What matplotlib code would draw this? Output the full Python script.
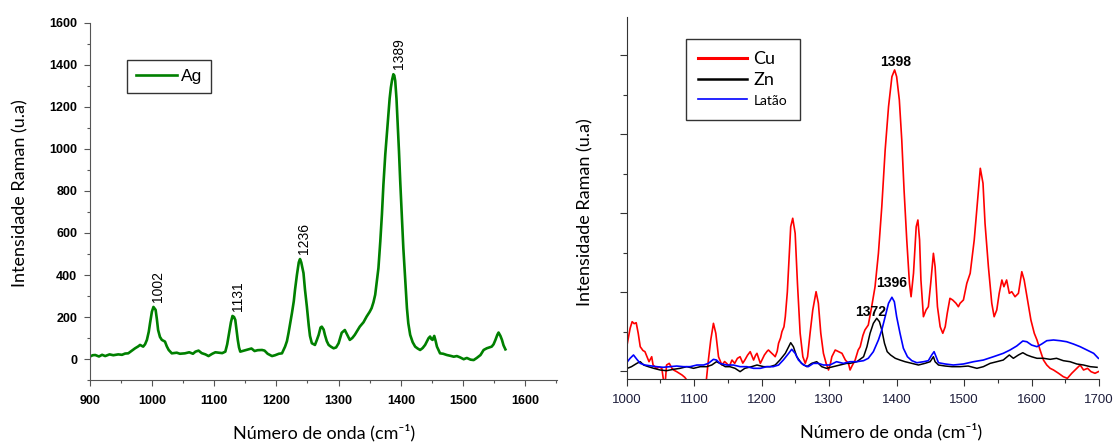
import numpy as np
import matplotlib.pyplot as plt
from matplotlib.ticker import MultipleLocator

# Ag spectrum (left panel)
ag_x = [900, 905, 909, 915, 920, 925, 932, 938, 946, 952, 957, 962, 968, 973, 978, 981, 986, 989,
        992, 995, 997, 1000, 1002.5, 1006, 1008, 1010, 1013, 1016, 1021, 1024, 1027, 1032, 1040,
        1045, 1053, 1060, 1066, 1070, 1075, 1080, 1086, 1091, 1097, 1102, 1107, 1113, 1118, 1121,
        1124, 1127, 1129.5, 1132, 1134, 1136, 1138, 1140, 1142, 1148, 1155, 1160, 1165, 1170, 1177,
        1181, 1186, 1193, 1198, 1204, 1209, 1214, 1217, 1219.5, 1222, 1225, 1228, 1230, 1233, 1236,
        1238, 1240, 1243.6, 1246, 1249, 1252, 1254, 1257, 1262, 1265, 1268, 1271, 1273, 1276, 1278,
        1281, 1284, 1288, 1292, 1296, 1300, 1305, 1310, 1314, 1318, 1322, 1326, 1330, 1334, 1340,
        1345, 1350, 1353, 1356, 1358.8, 1361, 1364, 1367, 1369.6, 1372, 1375, 1378, 1380, 1382,
        1384, 1386, 1388, 1389.5, 1391, 1393, 1394.7, 1397, 1399, 1401, 1404, 1407, 1409.8, 1412,
        1415, 1419, 1423, 1427, 1431, 1435, 1439, 1442, 1444.5, 1447, 1449, 1451, 1453.7, 1456,
        1458, 1461, 1463, 1468, 1474, 1480, 1485, 1490, 1495, 1501, 1506, 1512, 1517, 1522, 1528,
        1533, 1538, 1542, 1546, 1549, 1552, 1555, 1557, 1560, 1562.5, 1565, 1568]
ag_y = [11, 18, 19, 12, 20, 14, 22, 18, 22, 20, 26, 27, 40, 51, 60, 67, 59, 70,
        91, 130, 170, 225, 248, 234, 190, 138, 105, 91, 83, 60, 43, 27, 30,
        25, 27, 32, 25, 35, 40, 28, 22, 14, 25, 32, 30, 28, 35, 70,
        123, 175, 205, 200, 186, 140, 91, 55, 35, 40, 46, 50, 38, 42, 43,
        40, 25, 14, 18, 25, 27, 59, 85, 123, 165, 218, 275, 330, 400, 460,
        476, 460, 409, 330, 250, 160, 110, 75, 67, 90, 115, 150, 154, 140, 115,
        85, 67, 58, 51, 55, 75, 125, 138, 115, 91, 100, 115, 135, 154, 175,
        202, 225, 242, 270, 306, 360, 433, 560, 688, 830, 974, 1090, 1165, 1240,
        1293, 1330, 1356, 1350, 1324, 1240, 1133, 990, 847, 720, 529, 380, 242, 170,
        115, 80, 59, 50, 43, 52, 67, 85, 99, 107, 95, 91, 110, 85,
        59, 40, 27, 25, 19, 15, 11, 14, 8, -1, 5, -3, -5, 5, 19,
        43, 51, 55, 59, 70, 91, 115, 126, 110, 91, 65, 46]

# Cu, Zn and Latao spectra (right panel, arbitrary units)
cu_x = [1000, 1003, 1005, 1008, 1011, 1014, 1017, 1020, 1024, 1027, 1030, 1033, 1035, 1037, 1039,
        1044, 1048, 1052, 1055, 1057, 1059, 1063, 1067, 1070, 1074, 1078, 1082, 1086, 1089, 1095,
        1105, 1115, 1118, 1121, 1124.5, 1128.5, 1132, 1136, 1141, 1145, 1148, 1152, 1156, 1160,
        1164, 1168, 1172, 1175, 1179, 1183, 1186, 1188, 1191, 1193, 1196, 1198, 1201, 1204, 1208,
        1210, 1213, 1215, 1218, 1220, 1223, 1225, 1228, 1230, 1233, 1235, 1238, 1240, 1243, 1246,
        1249.6, 1253, 1257, 1261, 1264.6, 1268, 1271.7, 1275.7, 1280.6, 1284, 1287.6, 1291.5,
        1295.5, 1299, 1302, 1304, 1309, 1314, 1319, 1324, 1328.6, 1331, 1333.6, 1338.5, 1343, 1346,
        1350, 1353, 1358, 1363, 1368, 1373, 1378, 1383, 1388, 1393, 1397, 1400, 1404, 1407.6, 1411,
        1415, 1419, 1421.4, 1425, 1429, 1431.5, 1434, 1436, 1439.7, 1443.6, 1447, 1450.5, 1454.5,
        1457, 1460.5, 1464.5, 1468.4, 1472, 1475, 1479, 1483, 1488, 1491.5, 1494, 1499, 1504, 1509,
        1515, 1520, 1524, 1528, 1531, 1536, 1541, 1544.5, 1548.4, 1552, 1556, 1559, 1563, 1567,
        1570.6, 1575.5, 1580.5, 1585.5, 1589, 1594, 1599, 1604, 1608, 1612.6, 1617.6, 1622.5,
        1627.5, 1632.5, 1640, 1647, 1653, 1659.5, 1667, 1672, 1677, 1683, 1688, 1694, 1699]
cu_y = [308, 450, 541, 625, 600, 612, 478, 308, 260, 245, 181, 118, 150, 181, 76,
        34, 50, 34, -150, -150, 76, 97, 34, 10, -8, -30, -51, -80, -114, -200,
        -250, -200, -114, 139, 393, 604, 478, 181, 76, 120, 97, 60, 139, 97,
        160, 181, 100, 139, 200, 245, 180, 139, 200, 224, 150, 97, 150, 203, 250,
        266, 240, 224, 200, 181, 250, 351, 420, 498, 560, 688, 1000, 1321, 1828, 1935,
        1745, 1111, 478, 181, 97, 181, 478, 773, 1005, 858, 478, 224,
        97, 13, 100, 181, 266, 245, 224, 139, 97, 13, 60, 139, 266, 308,
        450, 520, 583, 815, 1068, 1491, 2082, 2800, 3349, 3729, 3814, 3729, 3434, 2927, 2293,
        1660, 1111, 941, 1238, 1828, 1913, 1660, 1153, 688, 773, 815, 1111, 1491,
        1321, 815, 561, 478, 561, 731, 921, 900, 858, 815, 858, 900, 1111, 1238,
        1660, 2167, 2568, 2378, 1871, 1321, 858, 688, 773, 984, 1153, 1068, 1153, 984,
        1005, 941, 984, 1258, 1153, 900, 646, 478, 393, 266, 139, 76,
        34, 13, -29, -72, -93, -29, 34, 76, 13, 34, -8, -29, -8]

zn_x = [1001, 1007, 1015, 1020, 1025, 1032, 1040, 1049.5, 1059, 1069, 1079, 1089, 1099, 1109,
        1118.6, 1126, 1133, 1138, 1146, 1153, 1160.5, 1168, 1175, 1185, 1193, 1203, 1212.5, 1220,
        1227, 1235, 1240, 1243, 1247, 1252, 1259, 1267, 1274, 1281.6, 1289, 1296, 1306, 1316, 1326,
        1331, 1341, 1351, 1356, 1360.6, 1365.5, 1370.5, 1374.5, 1378, 1382, 1386, 1391, 1398, 1405,
        1412.5, 1422.5, 1432.3, 1442, 1449.6, 1454.5, 1457, 1462, 1472, 1482, 1494, 1506, 1519,
        1528.5, 1538.6, 1548.4, 1558, 1567, 1573, 1580.5, 1587, 1593, 1600, 1608, 1617.6, 1627.5,
        1637, 1647, 1657, 1667, 1677, 1687, 1697]
zn_y = [34, 55, 97, 118, 76, 55, 34, 13, 4, 21, 34, 55, 34, 55,
        55, 76, 118, 97, 55, 55, 34, -8, 34, 55, 76, 55, 55, 76,
        139, 224, 308, 359, 308, 181, 97, 55, 97, 118, 55, 34, 55, 76, 97,
        97, 118, 181, 308, 478, 604, 668, 625, 520, 351, 245, 203, 161, 139,
        118, 97, 76, 97, 118, 181, 118, 76, 63, 55, 55, 63, 34,
        55, 97, 118, 139, 203, 161, 203, 232, 203, 181, 161, 161, 148,
        161, 131, 118, 89, 76, 55, 47]

lat_x = [1001, 1005, 1010, 1015, 1020, 1027, 1034, 1044.5, 1054, 1064, 1074, 1084, 1094, 1104,
         1114, 1121, 1128.5, 1133, 1138, 1148, 1158, 1168, 1178, 1188, 1198, 1207.5, 1217, 1225,
         1232, 1240, 1244.5, 1249.6, 1254.5, 1262, 1269, 1276.6, 1284, 1291.5, 1301, 1311, 1321,
         1331, 1341, 1351, 1358, 1365.5, 1373, 1378, 1383, 1388, 1393, 1396.6, 1400, 1405, 1410,
         1416, 1422.5, 1430, 1440, 1447, 1452, 1455.5, 1458.5, 1462, 1472, 1484, 1499, 1514,
         1528.5, 1543.4, 1558, 1568, 1578, 1587, 1593, 1600, 1608, 1615, 1622.5, 1632.5, 1642.4,
         1652, 1662, 1672, 1682, 1692, 1699]
lat_y = [118, 161, 203, 148, 97, 76, 67, 55, 47, 55, 63, 55, 55, 76,
         76, 97, 148, 139, 97, 76, 76, 55, 55, 34, 34, 55, 55, 76,
         139, 224, 275, 224, 139, 76, 55, 97, 97, 76, 76, 118, 97,
         118, 118, 131, 161, 245, 393, 520, 688, 858, 934, 878, 688, 478, 288,
         181, 131, 105, 118, 131, 203, 245, 181, 105, 89, 76, 89, 118,
         139, 181, 224, 266, 317, 380, 371, 329, 308, 342, 384, 393, 384,
         371, 342, 308, 266, 224, 161]

plt.rcParams['font.family'] = ['Liberation Sans', 'DejaVu Sans']

fig = plt.figure(figsize=(11.15, 4.43), dpi=100)

# ---- left panel: Ag ----
ax1 = fig.add_axes([0.0804, 0.1422, 0.4192, 0.8059])
ax1.plot(ag_x, ag_y, color='#008000', lw=1.9, label='Ag')
ax1.set_xlim(900, 1651)
ax1.set_ylim(-100, 1600)
ax1.xaxis.set_major_locator(MultipleLocator(100))
ax1.xaxis.set_minor_locator(MultipleLocator(50))
ax1.yaxis.set_major_locator(MultipleLocator(200))
ax1.yaxis.set_minor_locator(MultipleLocator(100))
for s in ['top', 'right']:
    ax1.spines[s].set_visible(False)
for s in ['left', 'bottom']:
    ax1.spines[s].set_color('#555555')
ax1.tick_params(which='major', direction='out', length=4, width=0.8, color='#555555')
ax1.tick_params(which='minor', direction='out', length=2.5, width=0.8, color='#555555')
ax1.tick_params(axis='x', which='major', pad=7)
ax1.tick_params(axis='y', which='major', pad=5)
for lab in ax1.get_xticklabels() + ax1.get_yticklabels():
    lab.set_fontweight('bold')
    lab.set_fontsize(9)

ag_peaks = [(1002, 248), (1131, 205), (1236, 476), (1389, 1356)]
for px, py in ag_peaks:
    ax1.text(px + 8, py + 25, str(px), rotation=90, ha='center', va='bottom', fontsize=10)

leg1 = ax1.legend(loc='upper left', bbox_to_anchor=(0.08, 0.895), fontsize=12.5,
                  frameon=True, fancybox=False, handlelength=2.4, handletextpad=0.2,
                  borderpad=0.5, borderaxespad=0)
leg1.get_frame().set_edgecolor('black')
leg1.get_frame().set_linewidth(1.0)

# ---- right panel: Cu, Zn, Latao ----
ax2 = fig.add_axes([0.5621, 0.1445, 0.4236, 0.8172])
ax2.plot(cu_x, cu_y, color='#ff0000', lw=1.2, label='Cu')
ax2.plot(zn_x, zn_y, color='black', lw=1.1, label='Zn')
ax2.plot(lat_x, lat_y, color='#0000ff', lw=1.2, label='Latão')
ax2.set_xlim(1000, 1700)
ax2.set_ylim(-101, 4485)
ax2.xaxis.set_major_locator(MultipleLocator(100))
ax2.xaxis.set_minor_locator(MultipleLocator(50))
ax2.yaxis.set_major_locator(MultipleLocator(1000))
ax2.yaxis.set_minor_locator(MultipleLocator(500))
ax2.set_yticklabels([])
for s in ['top', 'right']:
    ax2.spines[s].set_visible(False)
for s in ['left', 'bottom']:
    ax2.spines[s].set_color('#333333')
ax2.tick_params(which='major', direction='out', length=5, width=0.8, color='#333333')
ax2.tick_params(which='minor', direction='out', length=3, width=0.8, color='#333333')
ax2.tick_params(axis='x', which='major', pad=6, labelsize=9.5, labelcolor='#1c1c3a')

ax2.text(1399, 3915, '1398', ha='center', va='center', fontsize=10, fontweight='bold')
ax2.text(1392, 1115, '1396', ha='center', va='center', fontsize=10, fontweight='bold')
ax2.text(1362, 748, '1372', ha='center', va='center', fontsize=10, fontweight='bold')

leg2 = ax2.legend(loc='upper left', bbox_to_anchor=(0.125, 0.94), frameon=True, fancybox=False,
                  handlelength=2.7, handletextpad=0.35, borderpad=0.7, labelspacing=0.25,
                  borderaxespad=0, prop={'family': ['Lato', 'DejaVu Sans'], 'size': 13})
leg2.get_frame().set_edgecolor('black')
leg2.get_frame().set_linewidth(1.0)
leg2.get_lines()[0].set_linewidth(2.2)
leg2.get_lines()[1].set_linewidth(1.8)
leg2.get_texts()[2].set_fontsize(10)

# axis titles
lab_font = ['Lato', 'DejaVu Sans']
xlab = 'Número de onda (cm⁻¹)'
fig.text(324 / 1115, 1 - 433 / 443, xlab, ha='center', va='center', fontsize=13, family=lab_font)
fig.text(891 / 1115, 1 - 432 / 443, xlab, ha='center', va='center', fontsize=13, family=lab_font)
fig.text(20 / 1115, 1 - 193 / 443, 'Intensidade Raman (u.a)', rotation=90, ha='center',
         va='center', fontsize=13, family=lab_font)
fig.text(585 / 1115, 1 - 212 / 443, 'Intensidade Raman (u.a)', rotation=90, ha='center',
         va='center', fontsize=13, family=lab_font)

fig.savefig('out.png', dpi=100)
